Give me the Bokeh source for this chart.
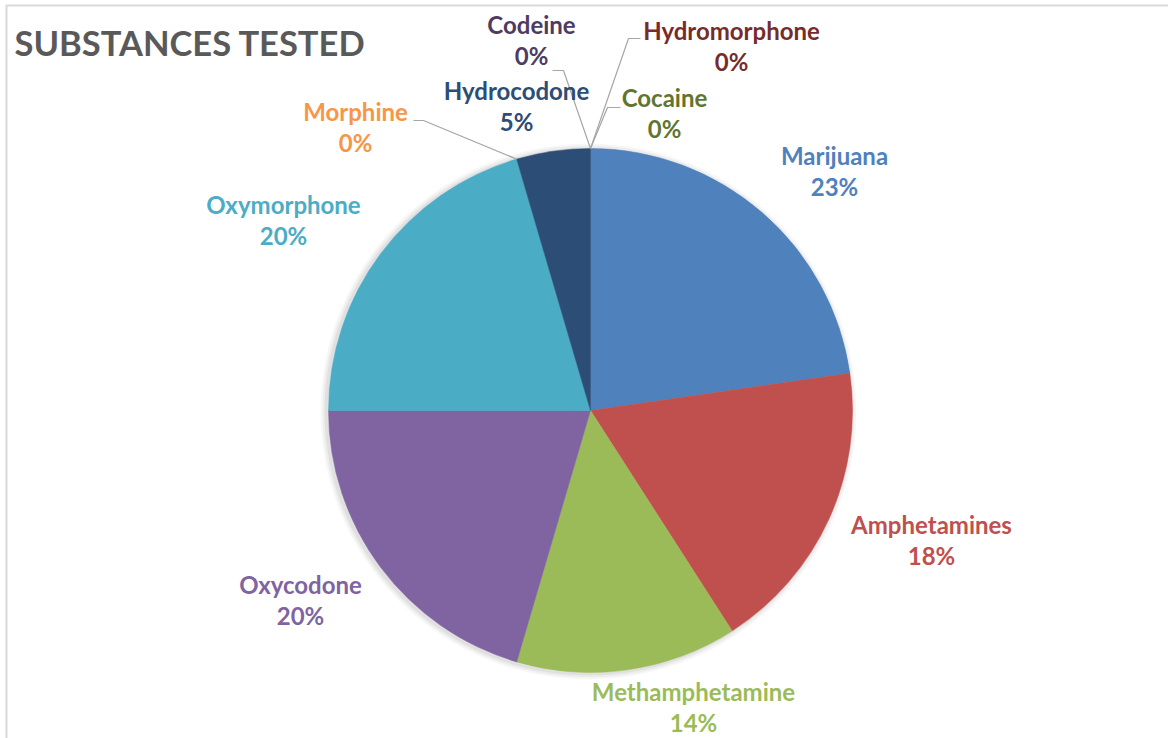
import math
from bokeh.plotting import figure
from bokeh.models import Range1d, ColumnDataSource
from bokeh.core.properties import value
from bokeh.embed import file_html
from bokeh.resources import INLINE

# ---- data (clockwise from 12 o'clock) ----
categories = ["Marijuana", "Amphetamines", "Methamphetamine", "Oxycodone", "Oxymorphone",
              "Morphine", "Hydrocodone", "Codeine", "Hydromorphone", "Cocaine"]
counts = [10, 8, 6, 9, 9, 0, 2, 0, 0, 0]
colors = ["#4F81BD", "#C0504D", "#9BBB59", "#8064A2", "#4BACC6",
          "#F79646", "#2C4D75", "#4D3B62", "#772C2A", "#5F7530"]
title_text = "SUBSTANCES TESTED"

# ---- layout (pixel positions in the reference picture) ----
W, H = 1168, 738
def X(sx):
    return sx
def Y(sy):
    return H - sy

CX, CY, R = 590, 410, 262
FONT = "Lato"
FS_PX = 24
TITLE_PX = 34.5
SHIFT = 0.375  # renderer places text lower by this fraction of font size

# label centre x, baseline of first line
label_pos = {
    "Marijuana": (834, 164),
    "Amphetamines": (931, 533),
    "Methamphetamine": (693, 700),
    "Oxycodone": (300, 593),
    "Oxymorphone": (283, 213),
    "Morphine": (355, 120),
    "Hydrocodone": (516, 99),
    "Codeine": (531, 33),
    "Hydromorphone": (731, 39),
    "Cocaine": (664, 106),
}
LINE_GAP = 31
# leader line start points (label side), then end of horizontal stub
leaders = {
    "Morphine": [(413, 120), (423, 120)],
    "Codeine": [(552, 70), (563, 70)],
    "Hydromorphone": [(640, 38), (628, 38)],
    "Cocaine": [(620, 107), (607, 107)],
}

p = figure(width=W, height=H, output_backend="svg", toolbar_location=None,
           x_range=Range1d(0, W), y_range=Range1d(0, H), min_border=0,
           outline_line_color=None, background_fill_color="white")
p.axis.visible = False
p.grid.visible = False

# chart border (top + left visible in reference)
p.line([X(5), X(W)], [Y(5), Y(5)], line_color="#D9D9D9", line_width=2)
p.line([X(6), X(6)], [Y(5), Y(H)], line_color="#D9D9D9", line_width=2)

total = sum(counts)
cum = 0.0
starts, ends, wcols = [], [], []
mid_frac = {}
for c, v, col in zip(categories, counts, colors):
    f0 = cum / total
    cum += v
    f1 = cum / total
    mid_frac[c] = (f0 + f1) / 2
    if v > 0:
        starts.append(math.pi / 2 - 2 * math.pi * f0)
        ends.append(math.pi / 2 - 2 * math.pi * f1)
        wcols.append(col)

# soft shadow
for k, a in [(6, 0.03), (4, 0.04), (2, 0.05)]:
    p.circle(x=[X(CX) - 2], y=[Y(CY) - 1], radius=R + k, fill_color="black",
             fill_alpha=a, line_color=None)

src = ColumnDataSource(dict(x=[X(CX)] * len(starts), y=[Y(CY)] * len(starts),
                            s=starts, e=ends, c=wcols))
p.wedge(x="x", y="y", radius=R, start_angle="s", end_angle="e", direction="clock",
        fill_color="c", line_color="c", line_width=0.5, source=src)

# leader lines
for name, pts in leaders.items():
    fr = mid_frac[name]
    ex = CX + R * math.sin(2 * math.pi * fr)
    ey = CY - R * math.cos(2 * math.pi * fr)
    xs = [X(pts[0][0]), X(pts[1][0]), X(ex)]
    ys = [Y(pts[0][1]), Y(pts[1][1]), Y(ey)]
    p.line(xs, ys, line_color="#A6A6A6", line_width=1.2)

# labels
lx, ly, lt, lc = [], [], [], []
for c, v, col in zip(categories, counts, colors):
    pct = "%d%%" % round(100 * v / total)
    sx, sy = label_pos[c]
    sy -= SHIFT * FS_PX
    lx += [X(sx), X(sx)]
    ly += [Y(sy), Y(sy + LINE_GAP)]
    lt += [c, pct]
    lc += [col, col]
p.text(x=lx, y=ly, text=lt, text_color=lc, text_font=value(FONT),
       text_font_style="bold", text_font_size="%gpx" % FS_PX, text_align="center",
       text_baseline="alphabetic")

# title
p.text(x=[X(14)], y=[Y(55 - SHIFT * TITLE_PX)], text=[title_text], text_color="#595959",
       text_font=value(FONT), text_font_style="bold", text_font_size="%gpx" % TITLE_PX,
       text_align="left", text_baseline="alphabetic")

open("out.html", "w").write(file_html(p, INLINE))
